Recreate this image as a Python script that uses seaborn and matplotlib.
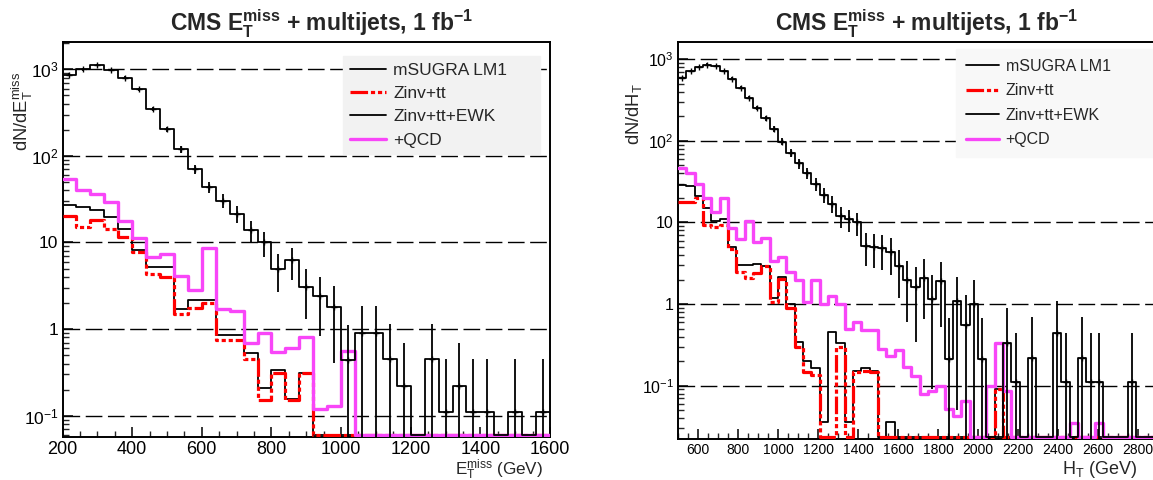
import numpy as np
import pandas as pd
import matplotlib
matplotlib.use("Agg")
import matplotlib.pyplot as plt
import seaborn as sns
from matplotlib.ticker import FixedLocator, FixedFormatter, MultipleLocator, LogLocator, NullFormatter
from matplotlib.lines import Line2D

# ---------------- data: left panel (MET, 35 bins of 40 GeV from 200 to 1600) -------------
met_range = (200, 1600)
met_nbins = 35
met_msugra = [870, 1000, 1120, 980, 800, 590, 352, 202, 119, 70,
              43.6, 30.5, 21.5, 13.8, 10.0, 5.0, 6.2, 3.1, 2.44, 1.78,
              0.44, 0.9, 0.9, 0.45, 0.22, 0, 0.45, 0.11, 0.22, 0.11,
              0.11, 0, 0.11, 0, 0.11]
met_msugra_err = [30, 32, 34, 32, 29, 25, 19, 14.5, 11, 8.6,
                  6.8, 5.7, 4.8, 3.8, 3.2, 2.3, 2.55, 1.8, 1.6, 1.37,
                  0.68, 0.97, 0.97, 0.69, 0.48, 0, 0.69, 0.34, 0.48, 0.34,
                  0.34, 0, 0.34, 0, 0.34]
met_zinv = [20, 15.2, 18, 14.5, 11.5, 7.7, 4.3, 4.0, 1.5, 1.76,
            2.0, 0.75, 0.74, 0.45, 0.15, 0.31, 0.15, 0.31, 0, 0,
            0, 0, 0, 0, 0, 0, 0, 0, 0, 0, 0, 0, 0, 0, 0]
met_ewk = [27, 25.5, 23.5, 19.5, 14.3, 8.1, 5.2, 5.2, 1.7, 2.17,
           2.17, 0.85, 0.85, 0.53, 0.21, 0.34, 0.155, 0.31, 0, 0,
           0, 0, 0, 0, 0, 0, 0, 0, 0, 0, 0, 0, 0, 0, 0]
met_qcd = [54, 40, 36, 29, 17.6, 11.3, 6.8, 7.4, 4.1, 2.86,
           8.7, 1.7, 1.6, 0.69, 0.89, 0.55, 0.61, 0.8, 0.118, 0.13,
           0.56, 0, 0, 0, 0, 0, 0, 0, 0, 0, 0, 0, 0, 0, 0]

# ---------------- data: right panel (HT, 60 bins from 500 to 3000) -------------
ht_range = (500, 3000)
ht_nbins = 60
ht_msugra = [590, 720, 810, 860, 830, 720, 580, 450, 340, 255,
             190, 140, 98, 72, 53, 40, 30, 22, 17, 12,
             11, 10, 5.2, 5.0, 4.8, 4.4, 2.9, 2.0, 1.6, 2.1,
             1.17, 1.9, 0.215, 1.1, 0.55, 1.0, 0.215, 0, 0, 0.33,
             0.11, 0, 0.22, 0, 0, 0.44, 0.11, 0, 0.22, 0.11,
             0.11, 0, 0, 0, 0.11, 0, 0, 0, 0, 0]
ht_msugra_err = [24, 27, 28, 29, 29, 27, 24, 21, 18, 16,
                 14, 12, 10, 8.5, 7.3, 6.3, 5.5, 4.7, 4.1, 3.5,
                 3.3, 3.2, 2.3, 2.2, 2.2, 2.1, 1.7, 1.4, 1.26, 1.45,
                 1.08, 1.38, 0.46, 1.05, 0.74, 1.0, 0.46, 0, 0, 0.57,
                 0.33, 0, 0.47, 0, 0, 0.66, 0.33, 0, 0.47, 0.33,
                 0.33, 0, 0, 0, 0.33, 0, 0, 0, 0, 0]
ht_zinv = [18, 18, 20, 9.4, 8.8, 9.3, 4.7, 2.5, 2.1, 2.4,
           2.9, 1.05, 2.05, 0.89, 0.3, 0.148, 0.135, 0, 0, 0.30,
           0, 0.148, 0.15, 0.148, 0, 0, 0, 0, 0, 0,
           0, 0, 0, 0, 0, 0, 0, 0, 0.09, 0,
           0, 0, 0, 0, 0, 0, 0, 0, 0, 0,
           0, 0, 0, 0, 0, 0, 0, 0, 0, 0]
ht_ewk = [29, 28, 21, 15, 10.3, 11, 5.0, 3.05, 3.0, 3.1,
          2.9, 1.2, 2.16, 1.0, 0.345, 0.2, 0.166, 0.036, 0.46, 0.33,
          0.036, 0.15, 0.166, 0.15, 0, 0.036, 0, 0, 0, 0,
          0, 0, 0, 0, 0, 0, 0, 0, 0.09, 0,
          0, 0, 0, 0, 0, 0, 0, 0, 0, 0,
          0, 0, 0, 0, 0, 0, 0, 0, 0, 0]
ht_qcd = [46, 40, 30, 20, 13.6, 20, 8.5, 6.2, 10.3, 5.8,
          6.4, 3.4, 3.8, 2.5, 1.95, 1.07, 2.0, 1.0, 1.25, 1.0,
          0.5, 0.6, 0.48, 0.48, 0.28, 0.23, 0.27, 0.17, 0.13, 0.08,
          0.085, 0.1, 0.052, 0.042, 0.065, 0, 0, 0.1, 0.33, 0.085,
          0, 0, 0, 0, 0, 0, 0, 0.035, 0, 0,
          0.035, 0, 0, 0, 0, 0, 0, 0, 0, 0]

legend_labels = ["mSUGRA LM1", "Zinv+tt", "Zinv+tt+EWK", "+QCD"]
title_text = r"CMS $\mathbf{E}_{\mathbf{T}}^{\mathbf{miss}}$ + multijets, 1 fb$^{\mathbf{-1}}$"

# ---------------- style ----------------
sns.set_style("ticks")
plt.rcParams['font.family'] = ['Liberation Sans', 'DejaVu Sans']
plt.rcParams['mathtext.fontset'] = 'custom'
plt.rcParams['mathtext.rm'] = 'Liberation Sans'
plt.rcParams['mathtext.it'] = 'Liberation Sans:italic'
plt.rcParams['mathtext.bf'] = 'Liberation Sans:bold'
plt.rcParams['mathtext.sf'] = 'Liberation Sans'
plt.rcParams['axes.linewidth'] = 1.2

RED = '#ff0000'
MAG = '#f846f8'
RED_LS = (0, (5.5, 0.9, 1.3, 0.9, 1.3, 0.9, 1.3, 0.9))

W, H = 1153, 480
fig = plt.figure(figsize=(W / 100, H / 100), dpi=100)


def frac_box(x0, y0, x1, y1):
    return [x0 / W, 1 - y1 / H, (x1 - x0) / W, (y1 - y0) / H]


axL = fig.add_axes(frac_box(62.5, 42.3, 550, 436.7))
axR = fig.add_axes(frac_box(678, 41.7, 1178, 439))


def draw_panel(ax, rng, nb, msugra, msugra_err, zinv, ewk, qcd, ylim, xlabelsize):
    edges = np.linspace(rng[0], rng[1], nb + 1)
    centers = 0.5 * (edges[:-1] + edges[1:])
    floor = ylim[0] * 1.045

    def clip(v):
        v = np.asarray(v, float)
        return np.where(v > 0, v, floor)

    series = [(ewk, dict(color='black', linewidth=1.3), 3),
              (zinv, dict(color=RED, linewidth=2.3, linestyle=RED_LS), 4),
              (qcd, dict(color=MAG, linewidth=2.4), 5),
              (msugra, dict(color='black', linewidth=1.3), 6)]
    for vals, kw, z in series:
        df = pd.DataFrame({'x': centers, 'w': clip(vals)})
        sns.histplot(data=df, x='x', weights='w', bins=list(edges), element='step',
                     fill=False, ax=ax, zorder=z, **kw)

    m = np.asarray(msugra, float)
    e = np.asarray(msugra_err, float)
    sel = m > 0
    lo = np.minimum(e[sel], m[sel] - ylim[0] * 0.5)
    ax.errorbar(centers[sel], m[sel], yerr=[lo, e[sel]], fmt='+', color='black',
                ms=5, mew=1.0, elinewidth=1.3, capsize=0, zorder=7)

    ax.set_yscale('log')
    ax.set_xlim(rng)
    ax.set_ylim(ylim)
    ax.set_xlabel('')
    ax.set_ylabel('')
    ax.yaxis.set_major_locator(FixedLocator([0.1, 1, 10, 100, 1000]))
    ax.yaxis.set_major_formatter(FixedFormatter([r'$10^{-1}$', '1', '10', r'$10^{2}$', r'$10^{3}$']))
    ax.yaxis.set_minor_locator(LogLocator(base=10, subs=np.arange(2, 10)))
    ax.yaxis.set_minor_formatter(NullFormatter())
    ax.xaxis.set_major_locator(MultipleLocator(200))
    ax.xaxis.set_minor_locator(MultipleLocator(50))
    ax.tick_params(axis='both', which='major', direction='in', length=7, width=1.1,
                   colors='black', labelsize=xlabelsize, pad=3)
    ax.tick_params(axis='both', which='minor', direction='in', length=4, width=1.0)
    ax.tick_params(axis='y', which='major', labelsize=12.5, pad=3)
    ax.grid(axis='y', which='major', color='black', linewidth=1.0, linestyle=(0, (12, 4)))
    ax.set_axisbelow(True)
    for s in ax.spines.values():
        s.set_visible(True)
        s.set_color('black')
        s.set_linewidth(1.4)


draw_panel(axL, met_range, met_nbins, met_msugra, met_msugra_err, met_zinv, met_ewk, met_qcd,
           (0.0572, 2050), 13)
draw_panel(axR, ht_range, ht_nbins, ht_msugra, ht_msugra_err, ht_zinv, ht_ewk, ht_qcd,
           (0.0222, 1644), 10)
axR.tick_params(axis='y', which='major', labelsize=11.5)

handles = [Line2D([], [], color='black', lw=1.3),
           Line2D([], [], color=RED, lw=2.3, linestyle=RED_LS),
           Line2D([], [], color='black', lw=1.3),
           Line2D([], [], color=MAG, lw=2.4)]


def add_legend(ax, x0, y0, x1, fs, fc, ls, bp):
    leg = ax.legend(handles, legend_labels, loc='upper left',
                    bbox_to_anchor=(x0 / W, 1 - y0 / H, (x1 - x0) / W, 0.0),
                    bbox_transform=fig.transFigure, mode='expand', frameon=True,
                    fancybox=False, facecolor=fc, edgecolor=fc, framealpha=1,
                    fontsize=fs, handlelength=2.1, handletextpad=0.4, borderpad=bp,
                    labelspacing=ls, borderaxespad=0)
    leg.set_zorder(10)
    return leg


add_legend(axL, 343, 56, 540, 12.5, '#f2f2f2', 0.47, 0.38)
add_legend(axR, 956, 49, 1200, 11.5, '#f8f8f8', 0.6, 0.6)

# titles
fig.text(322 / W, 1 - 32 / H, title_text, ha='center', va='baseline',
         fontsize=16.5, fontweight='bold')
fig.text(927 / W, 1 - 32 / H, title_text, ha='center', va='baseline',
         fontsize=16.5, fontweight='bold')

# axis labels
fig.text(22 / W, 1 - 72 / H, r"dN/dE$_{\mathrm{T}}^{\mathrm{miss}}$", rotation=90,
         ha='center', va='top', fontsize=13.2)
fig.text(634 / W, 1 - 83 / H, r"dN/dH$_{\mathrm{T}}$", rotation=90,
         ha='center', va='top', fontsize=13.2)
fig.text(543 / W, 1 - 474.5 / H, r"E$_{\mathrm{T}}^{\mathrm{miss}}$ (GeV)", ha='right',
         va='baseline', fontsize=12.3)
fig.text(1137 / W, 1 - 474 / H, r"H$_{\mathrm{T}}$ (GeV)", ha='right',
         va='baseline', fontsize=13)

fig.savefig('out.png', dpi=100)
